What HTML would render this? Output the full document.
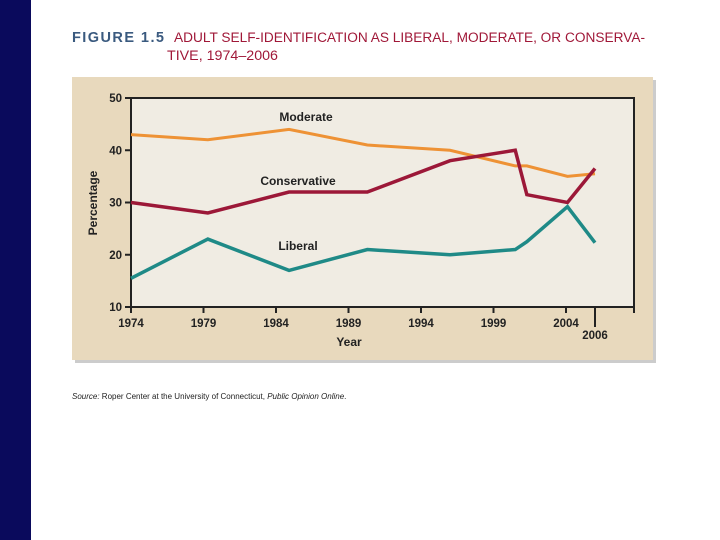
<!DOCTYPE html>
<html><head><meta charset="utf-8"><style>
body{margin:0;width:720px;height:540px;background:#fff;position:relative;overflow:hidden;font-family:"Liberation Sans",sans-serif}
</style></head><body>
<div style="position:absolute;left:0;top:0;width:31px;height:540px;background:#0a0a5c"></div>
<svg id="c" width="720" height="540" style="position:absolute;left:0;top:0">
<text x="72" y="42" font-size="14.5" font-weight="bold" fill="#3a5a7f" textLength="92">FIGURE 1.5</text>
<text x="174" y="42" font-size="13.5" fill="#a01838" textLength="471" lengthAdjust="spacingAndGlyphs">ADULT SELF-IDENTIFICATION AS LIBERAL, MODERATE, OR CONSERVA-</text>
<text x="167" y="60" font-size="13.5" fill="#a01838" textLength="111" lengthAdjust="spacingAndGlyphs">TIVE, 1974–2006</text>
<rect x="75" y="80" width="581" height="283" fill="#ccc"/>
<rect x="72" y="77" width="581" height="283" fill="#e8d9bd"/>
<rect x="131" y="98" width="503" height="209" fill="#f0ece3" stroke="#222" stroke-width="2"/>
<text transform="translate(97,203) rotate(-90)" text-anchor="middle" font-size="12" font-weight="bold" fill="#222">Percentage</text>
<text x="349" y="346" text-anchor="middle" font-size="12" font-weight="bold" fill="#222">Year</text>
<text x="72" y="399" font-size="8" fill="#222"><tspan font-style="italic">Source:</tspan> Roper Center at the University of Connecticut, <tspan font-style="italic">Public Opinion Online</tspan>.</text>
<g id="g"></g>
</svg>
<script>
const years=[1974,1979.3,1984.9,1990.3,1996,2000.5,2001.3,2004.1,2006];
const moderate=[43,42,44,41,40,37,37,35,35.5];
const conservative=[30,28,32,32,38,40,31.5,30,36.5];
const liberal=[15.5,23,17,21,20,21,22.5,29.2,22.3];
const yTicks=[10,20,30,40,50];
const xTicks=[1974,1979,1984,1989,1994,1999,2004];
const NS="http://www.w3.org/2000/svg",g=document.getElementById('g');
const X=v=>131+(v-1974)*14.5, Y=v=>307-(v-10)*5.225;
function el(t,a,txt){const e=document.createElementNS(NS,t);for(const k in a)e.setAttribute(k,a[k]);if(txt!=null)e.textContent=txt;g.appendChild(e);return e;}
yTicks.forEach(v=>{
 const t=el('line',{x1:125,x2:131,y1:Y(v),y2:Y(v),stroke:'#222','stroke-width':2});
 
 
 const l=el('text',{x:122,y:Y(v)+4,'text-anchor':'end','font-size':11.5,'font-weight':'bold',fill:'#222'},v);
 
 
});
xTicks.concat([2006]).forEach(v=>{
 const t=el('line',{x1:X(v),x2:X(v),y1:307,y2:v===2006?327:313,stroke:'#222','stroke-width':2});
 
 
 const l=el('text',{x:X(v),y:v===2006?339:327,'text-anchor':'middle','font-size':11.5,'font-weight':'bold',fill:'#222'},v);
 
 
});
const rt=el('line',{x1:634,x2:634,y1:307,y2:313,stroke:'#222','stroke-width':2});


[[moderate,'#ee9235','moderate-line'],[conservative,'#9c1838','conservative-line'],[liberal,'#1f8a87','liberal-line']].forEach(([d,c,n])=>{
 const p=el('polyline',{points:years.map((y,i)=>X(y)+','+Y(d[i])).join(' '),fill:'none',stroke:c,'stroke-width':n==='moderate-line'?3:3.5,'stroke-linejoin':'miter'});
 
 
});
[['Moderate',306,121,'moderate-label'],['Conservative',298,185,'conservative-label'],['Liberal',298,250,'liberal-label']].forEach(([t,x,y,n])=>{
 const l=el('text',{x:x,y:y,'text-anchor':'middle','font-size':12,'font-weight':'bold',fill:'#222'},t);
 
 
});
</script>
</body></html>
